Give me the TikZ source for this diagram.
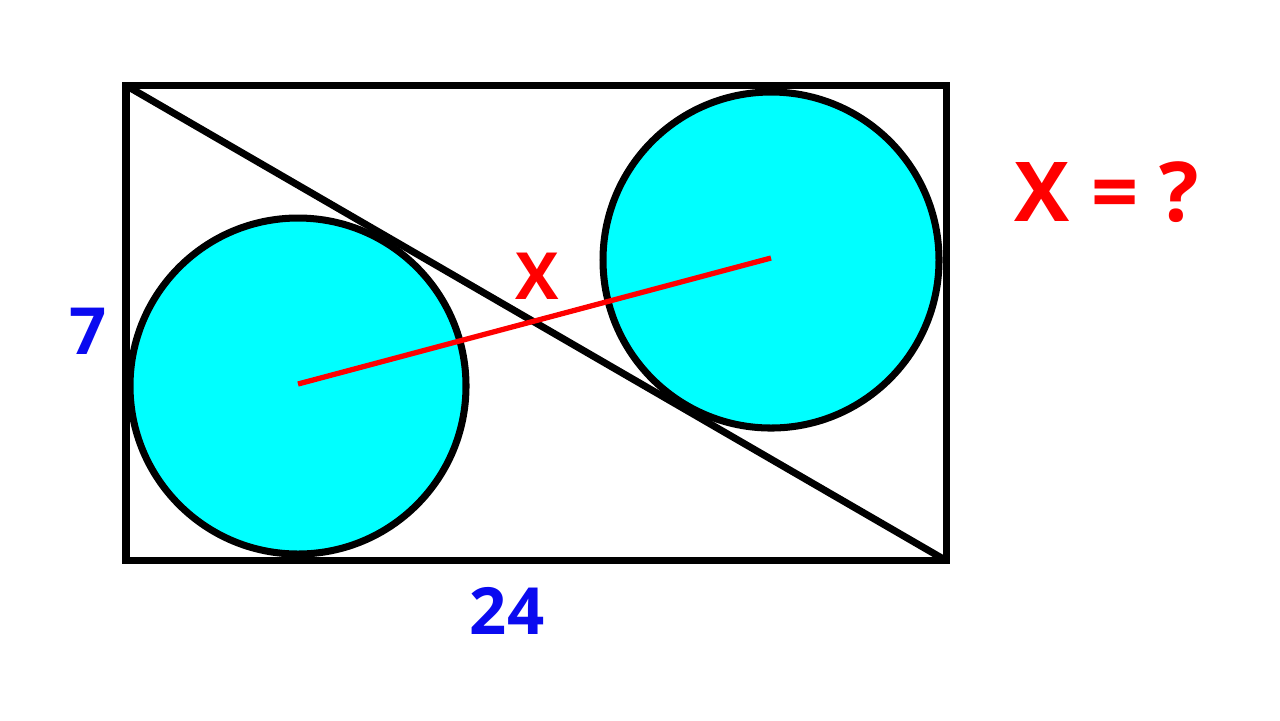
\documentclass[tikz,border=0pt]{standalone}
\usepackage{fontspec}
\setmainfont{Open Sans}
\definecolor{aqua}{RGB}{0,255,255}
\definecolor{lblblue}{RGB}{10,10,240}
\definecolor{lblred}{RGB}{255,0,0}
\tikzset{
  side/.style={line width=2pt,draw=black},
  len/.style={text=lblblue,font=\fontsize{18.5}{20}\selectfont\bfseries},
  ask/.style={text=lblred,font=\fontsize{18.5}{20}\selectfont\bfseries}
}

\begin{document}
\begin{tikzpicture}[x=0.01cm,y=-0.01cm]
   \useasboundingbox (0,0) rectangle (1280,720);
   \filldraw[side,fill=aqua] (298,386) circle(168);
   \filldraw[side,fill=aqua] (771,260) circle(168);
   \draw[side,line join=miter] (126,85.5) rectangle (946,560.5);
   \draw[side] (126,85.5) -- (946,560.5);
   \draw[red,line width=1.5pt] (298,384) -- (771,258);
   \draw (88,331) node[len] (h) {7};
   \draw (507,611) node[len] (w) {24};
   \draw (537,276) node[ask] (x) {X};
   \draw (1107,192) node[ask,font=\fontsize{23.5}{26}\selectfont\bfseries] (q) {X = ?};
\end{tikzpicture}
\end{document}
